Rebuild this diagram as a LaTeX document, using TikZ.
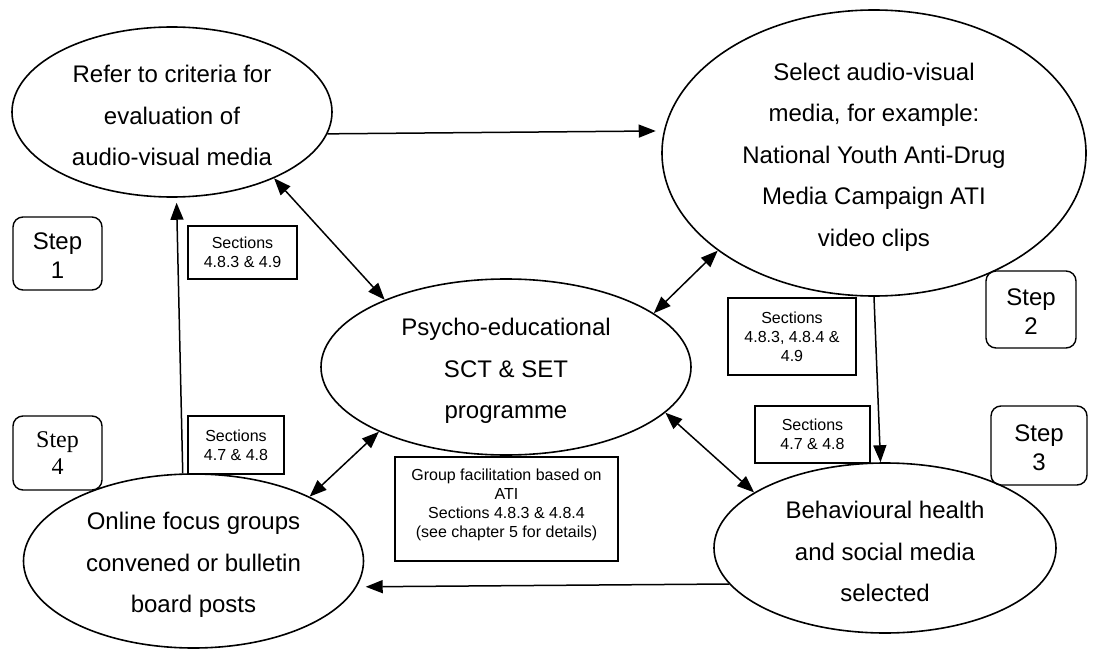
\documentclass[tikz,border=0pt]{standalone}
\usepackage{fontspec}
\setmainfont{Liberation Sans}
\newfontfamily\stepserif{Liberation Serif}
\usetikzlibrary{shapes.geometric,arrows.meta}
\newcommand\ovalstrut{\rule{0pt}{25pt}}
\newcommand\stepstrut{\rule{0pt}{21pt}}
\begin{document}
\begin{tikzpicture}[x=1pt,y=-1pt,
  oval/.style={draw, ellipse, line width=1.6pt, inner sep=0pt, align=center, font=\fontsize{24}{41.5}\selectfont},
  stepbox/.style={draw, rectangle, rounded corners=10pt, line width=1.4pt, align=center, inner sep=0pt, font=\fontsize{24}{29}\selectfont},
  secbox/.style={draw, rectangle, line width=1.4pt, align=center, inner sep=0pt, font=\fontsize{16}{19}\selectfont},
  arr/.style={line width=1.5pt, -{Triangle[length=17pt,width=13pt]}},
  darr/.style={line width=1.5pt, {Triangle[length=17pt,width=13pt]}-{Triangle[length=17pt,width=13pt]}}]
\useasboundingbox (0,0) rectangle (1095,650);
% ellipses
\node[oval, minimum width=320pt, minimum height=170pt] (e1) at (172,112) {\ovalstrut Refer to criteria for\\evaluation of\\audio-visual media};
\node[oval, minimum width=424pt, minimum height=286pt] (e2) at (874,153) {\ovalstrut Select audio-visual\\media, for example:\\National Youth Anti-Drug\\Media Campaign ATI\\video clips};
\node[oval, minimum width=370pt, minimum height=176pt] (e3) at (506,367) {\ovalstrut Psycho-educational\\SCT \& SET\\programme};
\node[oval, minimum width=340pt, minimum height=174pt] (e4) at (193.5,561) {\ovalstrut Online focus groups\\convened or bulletin\\board posts};
\node[oval, minimum width=342pt, minimum height=170pt] (e5) at (885,548) {\ovalstrut Behavioural health\\and social media\\selected};
% step boxes
\node[stepbox, minimum width=89pt, minimum height=73pt] (s1) at (57.5,253.5) {\stepstrut Step\\1};
\node[stepbox, minimum width=89pt, minimum height=74pt, font=\stepserif\fontsize{24}{27}\selectfont] (s4) at (57.5,453) {Step\\4};
\node[stepbox, minimum width=90pt, minimum height=77pt] (s2) at (1031,309.5) {\stepstrut Step\\2};
\node[stepbox, minimum width=96pt, minimum height=79pt] (s3) at (1039,445.5) {\stepstrut Step\\3};
% section boxes
\node[secbox, minimum width=109pt, minimum height=53pt] (c1) at (242.5,252.5) {Sections\\4.8.3 \& 4.9};
\node[secbox, minimum width=96pt, minimum height=58pt] (c4) at (236,445) {Sections\\4.7 \& 4.8};
\node[secbox, minimum width=128pt, minimum height=77pt] (c2) at (792,336.5) {Sections\\4.8.3, 4.8.4 \&\\4.9};
\node[secbox, minimum width=115pt, minimum height=57pt] (c3) at (812.5,434.5) {Sections\\4.7 \& 4.8};
\node[secbox, minimum width=223pt, minimum height=104pt] (g) at (506.5,509) {Group facilitation based on\\ATI\\Sections 4.8.3 \& 4.8.4\\(see chapter 5 for details)\rule[-11pt]{0pt}{11pt}};
% connectors
\draw[arr, shorten >=8pt] (e1.-8) -- (e2.174);
\draw[arr, shorten >=5pt] (e4.97) -- (e1.-87);
\draw[darr] (e1.-33.4) -- (e3.151.8);
\draw[darr] (e3.20.6) -- (e2.-148.2);
\draw[darr] (e3.-16.1) -- (e5.157.1);
\draw[darr] (e3.-153.4) -- (e4.29.8);
\draw[arr] (e2.-90.8) -- (e5.93.4);
\draw[arr, shorten >=9pt] (e5.-167.1) -- (e4.-9.1);
\end{tikzpicture}
\end{document}
